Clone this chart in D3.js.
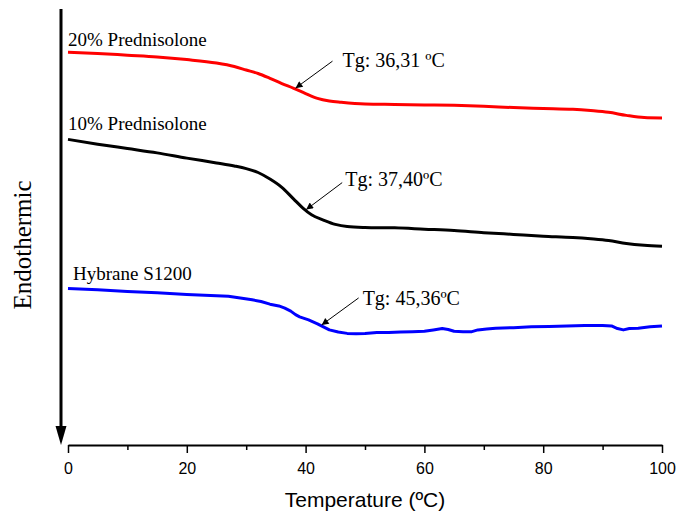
<!DOCTYPE html>
<html>
<head>
<meta charset="utf-8">
<script src="https://cdn.jsdelivr.net/npm/d3@7"></script>
<style>
  html, body { margin: 0; padding: 0; background: #fff; }
  svg { display: block; }
</style>
</head>
<body>
<svg id="chart" width="678" height="514"></svg>
<script>
// DSC thermograms: heat flow (arbitrary units, endothermic down) vs temperature
const xTicks = [0, 20, 40, 60, 80, 100];
const xMinorTicks = [10, 30, 50, 70, 90];

const tempRed = [0, 5, 10, 15, 20, 25, 28, 30, 32, 34, 36, 38, 40, 42, 44, 46, 50, 55, 60, 65, 70, 75, 80, 85, 88, 91, 94, 97, 100];
const heatRed = [9.01, 8.98, 8.94, 8.90, 8.84, 8.76, 8.68, 8.60, 8.52, 8.41, 8.29, 8.18, 8.06, 7.95, 7.89, 7.86, 7.82, 7.81, 7.80, 7.79, 7.77, 7.74, 7.72, 7.70, 7.67, 7.63, 7.56, 7.51, 7.50];

const tempBlack = [0, 5, 10, 15, 20, 25, 28, 30, 32, 34, 36, 38, 39.5, 41, 43, 45, 47, 50, 55, 60, 65, 70, 75, 80, 85, 88, 91, 94, 97, 100];
const heatBlack = [7.01, 6.90, 6.80, 6.70, 6.58, 6.47, 6.40, 6.34, 6.25, 6.10, 5.91, 5.64, 5.44, 5.28, 5.16, 5.06, 5.01, 4.99, 4.98, 4.95, 4.92, 4.87, 4.83, 4.79, 4.76, 4.73, 4.69, 4.62, 4.58, 4.56];

const tempBlue = [0, 5, 10, 15, 20, 24, 27, 29, 31, 32.5, 34, 35.5, 36.5, 37.5, 38.3, 39, 40.5, 42, 43, 44, 45.5, 47, 48.5, 50, 52, 54, 56, 58, 60, 61.5, 63, 64, 65, 66.5, 68, 69, 70.5, 72, 75, 78, 81, 84, 87, 90, 91.5, 92.5, 93.5, 94.5, 96, 98, 100];
const heatBlue = [3.59, 3.56, 3.52, 3.49, 3.45, 3.43, 3.41, 3.37, 3.33, 3.29, 3.23, 3.19, 3.14, 3.07, 2.99, 2.94, 2.87, 2.78, 2.71, 2.64, 2.59, 2.56, 2.55, 2.56, 2.58, 2.58, 2.59, 2.60, 2.61, 2.64, 2.67, 2.65, 2.61, 2.60, 2.60, 2.64, 2.66, 2.68, 2.69, 2.71, 2.72, 2.73, 2.74, 2.74, 2.73, 2.67, 2.64, 2.67, 2.68, 2.71, 2.73];

const seriesNames = ["20% Prednisolone", "10% Prednisolone", "Hybrane S1200"];
const seriesColors = ["#ff0000", "#000000", "#0000ff"];
// glass transition temperatures (ºC) and where each pointer touches its curve
const tgValues = ["36,31 ºC", "37,40ºC", "45,36ºC"];
const pointerTemps = [38.3, 40.1, 42.7];

const svg = d3.select("#chart");
const serif = "'Liberation Serif', 'Times New Roman', serif";
const sans = "'Liberation Sans', Arial, sans-serif";

const x = d3.scaleLinear().domain([0, 100]).range([68, 662]);
const y = d3.scaleLinear().domain([0, 10]).range([445, 9]);

// x axis: major ticks labelled, minor ticks unlabelled
const xAxis = d3.axisBottom(x).tickValues(xTicks).tickSize(8).tickSizeOuter(0).tickPadding(10)
  .tickFormat(d3.format("d"));
const gx = svg.append("g").attr("transform", `translate(0,${y(0)})`).call(xAxis);
gx.select(".domain").attr("stroke", "#000").attr("stroke-width", 2);
gx.selectAll(".tick line").attr("stroke", "#000").attr("stroke-width", 1.5);
gx.selectAll(".tick text").attr("font-family", sans).attr("font-size", 16).attr("fill", "#000");
const xMinor = d3.axisBottom(x).tickValues(xMinorTicks).tickSize(5).tickSizeOuter(0).tickFormat("");
const gxm = svg.append("g").attr("transform", `translate(0,${y(0)})`).call(xMinor);
gxm.select(".domain").remove();
gxm.selectAll(".tick line").attr("stroke", "#000").attr("stroke-width", 1.5);

svg.append("text")
  .attr("x", (x(0) + x(100)) / 2 + 0).attr("y", 507)
  .attr("text-anchor", "middle")
  .attr("font-family", sans).attr("font-size", 21)
  .text("Temperature (ºC)");

// vertical "Endothermic" arrow
const arrowX = 61;
svg.append("line")
  .attr("x1", arrowX).attr("x2", arrowX)
  .attr("y1", 9).attr("y2", 428)
  .attr("stroke", "#000").attr("stroke-width", 3);
svg.append("path")
  .attr("d", `M${arrowX - 5.5},${426} L${arrowX + 5.5},${426} L${arrowX},${y(0)} Z`)
  .attr("fill", "#000");
svg.append("text")
  .attr("transform", `translate(31,${245}) rotate(-90)`)
  .attr("text-anchor", "middle")
  .attr("font-family", serif).attr("font-size", 25)
  .text("Endothermic");

// curves
const temps = [tempRed, tempBlack, tempBlue];
const heats = [heatRed, heatBlack, heatBlue];
const curves = [d3.curveMonotoneX, d3.curveMonotoneX, d3.curveLinear];

temps.forEach((t, i) => {
  const pts = t.map((d, j) => [d, heats[i][j]]);
  const line = d3.line().x(d => x(d[0])).y(d => y(d[1])).curve(curves[i]);
  svg.append("path")
    .datum(pts)
    .attr("d", line)
    .attr("fill", "none")
    .attr("stroke", seriesColors[i])
    .attr("stroke-width", 3)
    .attr("stroke-linejoin", "round")
    .attr("stroke-linecap", "butt");
});

// series labels
const labelPos = [[68, 46], [68, 130], [73, 280]];
seriesNames.forEach((name, i) => {
  svg.append("text")
    .attr("x", labelPos[i][0]).attr("y", labelPos[i][1])
    .attr("font-family", serif).attr("font-size", 19)
    .text(name);
});

// Tg annotations with pointer arrows
svg.append("defs").append("marker")
  .attr("id", "head")
  .attr("viewBox", "0 0 10 10")
  .attr("refX", 10).attr("refY", 5)
  .attr("markerWidth", 10).attr("markerHeight", 7)
  .attr("markerUnits", "userSpaceOnUse")
  .attr("orient", "auto")
  .append("path").attr("d", "M0,0 L10,5 L0,10 Z").attr("fill", "#000");

function valueAt(t, h, T) {
  const i = d3.bisectLeft(t, T);
  if (i <= 0) return h[0];
  if (i >= t.length) return h[h.length - 1];
  const f = (T - t[i - 1]) / (t[i] - t[i - 1]);
  return h[i - 1] + f * (h[i] - h[i - 1]);
}

const pointerOffsets = [[37, -27], [36, -27], [37, -27]];
const textOffsets = [[47, -21], [39, -24], [41, -20]];
tgValues.forEach((tg, i) => {
  const tx = x(pointerTemps[i]);
  const ty = y(valueAt(temps[i], heats[i], pointerTemps[i])) - 1;
  svg.append("line")
    .attr("x1", tx + pointerOffsets[i][0]).attr("y1", ty + pointerOffsets[i][1])
    .attr("x2", tx).attr("y2", ty)
    .attr("stroke", "#000").attr("stroke-width", 1)
    .attr("marker-end", "url(#head)");
  svg.append("text")
    .attr("x", tx + textOffsets[i][0]).attr("y", ty + textOffsets[i][1])
    .attr("font-family", serif).attr("font-size", 20)
    .text("Tg: " + tg);
});
</script>
</body>
</html>
